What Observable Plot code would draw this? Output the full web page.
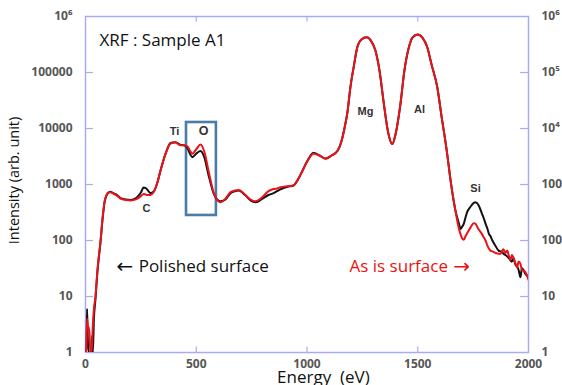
<!DOCTYPE html>
<html><head><meta charset="utf-8">
<script src="https://cdn.jsdelivr.net/npm/d3@7"></script>
<script src="https://cdn.jsdelivr.net/npm/@observablehq/plot@0.6"></script>
<style>
html,body{margin:0;padding:0;background:#fff;}
</style>
</head><body>
<div id="chart"></div>
<script>
// Energy grid (eV)
const energy = [0,4,7,10,14,18,22,26,30,33,38,45,54,68,77,86,95,104,113,125,140,158,181,203,230,250,262,272,280,293,307,325,339,361,384,406,429,445,460,472,482,501,519,537,555,578,591,609,632,655,675,691,722,745,767,785,799,826,849,865,880,912,939,955,971,1002,1029,1056,1084,1111,1138,1156,1169,1183,1196,1210,1227,1246,1269,1287,1309,1327,1347,1363,1385,1400,1422,1440,1460,1476,1500,1521,1543,1562,1588,1607,1633,1648,1670,1686,1693,1700,1708,1716,1723,1738,1753,1760,1774,1790,1798,1806,1815,1821,1828,1837,1851,1865,1874,1882,1887,1896,1904,1912,1919,1925,1932,1940,1946,1949,1955,1964,1970,1977,1984,1991,2000];
// As is surface (red)
const asIs = [1,1.2,4,3,2.8,2.2,1,1,1.5,3,6,10,30,100,250,500,650,720,730,690,640,560,530,520,550,620,680,660,650,650,730,1100,1780,3500,5400,5600,5000,5000,4800,4000,3550,4300,5200,3800,1780,730,560,480,560,730,780,800,650,540,500,540,600,760,830,850,890,930,960,1150,1500,2600,3550,3300,2870,3300,4000,6000,10000,20000,55000,120000,283000,390000,425000,380000,246000,110000,27600,10000,5300,8000,27600,110000,283000,420000,477000,420000,283000,140000,55000,17000,3500,1200,345,161,130,110,103,120,135,170,204,200,160,130,114,100,80,72,66,64,60,58,58,66,70,60,66,52,45,55,50,40,36,33,42,38,30,29,28,25,20];
// Polished surface (black)
const polished = [1,1,6,2,1,1,1,1,2,1,4,9,28,95,240,480,640,720,740,700,660,570,540,530,580,720,880,860,800,700,740,1100,1800,3500,5500,5700,5100,5000,4500,3500,3080,3600,3960,3000,1500,700,560,500,540,700,760,780,640,520,480,510,560,650,700,760,820,910,960,1150,1500,2650,3700,3300,2900,3300,4000,6000,10000,20000,55000,120000,283000,390000,425000,380000,246000,110000,27600,10000,5300,8000,27600,110000,283000,420000,477000,420000,283000,140000,55000,17000,3500,1200,345,200,161,175,200,260,320,400,470,480,430,300,250,200,160,132,120,100,80,66,64,62,58,55,52,48,44,42,48,38,35,34,30,22,32,30,26,24,22];

const xTicks = [0,500,1000,1500,2000];
const yTicks = [1,10,100,1000,10000,100000,1000000];
const yLabelsLeft = ["1","10","100","1000","10000","100000","10\u2076"];
const yLabelsRight = ["1","10","100","1000","10\u2074","10\u2075","10\u2076"];

const elements = ["Ti","O","C","Mg","Al","Si"];
const elementE = [402,533,275,1264,1508,1761];
const elementI = [8840,9150,373,20000,21900,850];
const elementSize = [11,12.5,11,11,11,11];

const boxE = [456,591];
const boxI = [280,12800];

const arrows = ["\u2190","\u2192"];
const arrowE = [140,1660];
const notes = ["Polished surface","As is surface"];
const noteE = [240,1192];
const noteI = [34,34];
const noteColor = ["#111","#ee1111"];

const rows = energy.map((e,i)=>({e, red: asIs[i], black: polished[i]}));
const frameColor = "#a9abf2";
const sans = "'Open Sans', sans-serif";

const chart = Plot.plot({
  width: 562, height: 385,
  marginLeft: 85, marginRight: 34, marginTop: 16, marginBottom: 33,
  style: {background: "#fff", overflow: "visible"},
  x: {domain: [0,2000]},
  y: {type: "log", domain: [1,1e6]},
  marks: [
    Plot.frame({stroke: frameColor, strokeWidth: 1.5}),
    Plot.ruleY(yTicks.slice(1,-1), {y: d=>d, x1: 0, x2: 36, stroke: frameColor, strokeWidth: 1.2}),
    Plot.ruleY(yTicks.slice(1,-1), {y: d=>d, x1: 1964, x2: 2000, stroke: frameColor, strokeWidth: 1.2}),
    Plot.ruleX(xTicks.slice(1,-1), {x: d=>d, y1: 1, y2: 1.25, stroke: frameColor, strokeWidth: 1.2}),
    Plot.ruleX(xTicks.slice(1,-1), {x: d=>d, y1: 8e5, y2: 1e6, stroke: frameColor, strokeWidth: 1.2}),
    Plot.axisX({ticks: xTicks, tickSize: 0, tickPadding: 7, label: null, tickFormat: d=>String(d), fill: "#555", fontWeight: "bold", fontSize: 12}),
    Plot.axisY({anchor: "left", ticks: yTicks, tickSize: 0, tickPadding: 13, label: null, tickFormat: d=>yLabelsLeft[yTicks.indexOf(d)], fill: "#555", fontWeight: "bold", fontSize: 12}),
    Plot.axisY({anchor: "right", ticks: yTicks, tickSize: 0, tickPadding: 13, label: null, tickFormat: d=>yLabelsRight[yTicks.indexOf(d)], fill: "#555", fontWeight: "bold", fontSize: 12}),
    Plot.rect([0], {x1: boxE[0], x2: boxE[1], y1: boxI[0], y2: boxI[1], fill: "none", stroke: "#4b7ba6", strokeWidth: 2.6}),
    Plot.line(rows, {x: "e", y: "black", stroke: "#111", strokeWidth: 2, curve: "monotone-x", clip: true}),
    Plot.line(rows, {x: "e", y: "red", stroke: "#e8141b", strokeWidth: 2, curve: "monotone-x", clip: true}),
    Plot.text(elements, {x: (d,i)=>elementE[i], y: (d,i)=>elementI[i], text: d=>d, fill: "#333", fontWeight: "bold", fontSize: (d,i)=>elementSize[i], fontFamily: "'Liberation Sans', Arial, sans-serif"}),
    Plot.text(arrows, {x: (d,i)=>arrowE[i], y: 34, text: d=>d, fill: (d,i)=>noteColor[i], textAnchor: "start", fontSize: 20, fontFamily: "'DejaVu Sans', sans-serif"}),
    Plot.text(notes, {x: (d,i)=>noteE[i], y: (d,i)=>noteI[i], text: d=>d, fill: (d,i)=>noteColor[i], textAnchor: "start", fontSize: 17, fontFamily: sans}),
    Plot.text(["XRF : Sample A1"], {x: 63, y: 370000, text: d=>d, fill: "#111", textAnchor: "start", fontSize: 17, fontFamily: sans}),
    Plot.text(["Energy  (eV)"], {x: 1074, frameAnchor: "bottom", dy: 30, text: d=>d, fill: "#111", fontSize: 17, fontFamily: sans}),
    Plot.text(["Intensity (arb. unit)"], {y: 1180, frameAnchor: "left", dx: -71, rotate: -90, textAnchor: "middle", text: d=>d, fill: "#111", fontSize: 14.5, fontFamily: sans})
  ]
});
document.getElementById("chart").appendChild(chart);
</script>
</body></html>
